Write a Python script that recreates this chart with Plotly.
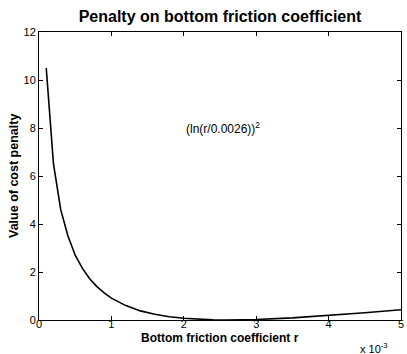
import plotly.graph_objects as go

# Bottom friction coefficient r (in units of 1e-3)
r_e3 = [0.1, 0.2, 0.3, 0.4, 0.5, 0.6, 0.7, 0.8, 0.9, 1.0, 1.2, 1.4, 1.6, 1.8,
        2.0, 2.2, 2.4, 2.6, 2.8, 3.0, 3.5, 4.0, 4.5, 5.0]
# Value of cost penalty
penalty = [10.5, 6.5, 4.6, 3.5, 2.7, 2.15, 1.72, 1.39, 1.13, 0.91, 0.60, 0.38,
           0.24, 0.135, 0.07, 0.028, 0.006, 0.0, 0.006, 0.02, 0.09, 0.19, 0.30, 0.43]

x_ticks = [0, 1, 2, 3, 4, 5]
y_ticks = [0, 2, 4, 6, 8, 10, 12]

FONT = "Liberation Sans, Arial, sans-serif"

fig = go.Figure()
fig.add_trace(go.Scatter(x=r_e3, y=penalty, mode="lines",
                         line=dict(color="black", width=1.6),
                         showlegend=False, hoverinfo="skip"))

axis_common = dict(showline=True, linecolor="black", linewidth=1, mirror="ticks",
                   ticks="inside", ticklen=4, tickcolor="black", tickwidth=1,
                   showgrid=False, zeroline=False, ticklabeloverflow="allow",
                   tickfont=dict(family=FONT, size=11, color="black"))

fig.update_layout(
    width=407, height=354,
    margin=dict(l=39, r=3, t=32, b=34),
    paper_bgcolor="white", plot_bgcolor="white",
    title=dict(text="<b>Penalty on bottom friction coefficient</b>",
               x=0.5, xref="paper", xanchor="center",
               y=1 - 16 / 354, yref="container", yanchor="middle",
               font=dict(family=FONT, size=16, color="black")),
    xaxis=dict(range=[0, 5], tickvals=x_ticks, ticktext=[str(v) for v in x_ticks],
               ticklabelstandoff=-6, **axis_common),
    yaxis=dict(range=[0, 12], tickvals=y_ticks, ticktext=[str(v) for v in y_ticks],
               **axis_common),
    annotations=[
        dict(text="<b>Bottom friction coefficient r</b>", x=0.5, y=0, xref="paper", yref="paper",
             xanchor="center", yanchor="middle", yshift=-17.5, showarrow=False,
             font=dict(family=FONT, size=12, color="black")),
        dict(text="<b>Value of cost penalty</b>", x=0, y=0.5, xref="paper", yref="paper",
             xanchor="center", yanchor="middle", xshift=-25, textangle=-90, showarrow=False,
             font=dict(family=FONT, size=12.5, color="black")),
        dict(text="(ln(r/0.0026))<sup>2</sup>", x=2.0, y=8.0, xref="x", yref="y",
             xanchor="left", yanchor="middle", showarrow=False,
             font=dict(family=FONT, size=12, color="black")),
        dict(text="x 10<sup>-3</sup>", x=1.0, y=0, xref="paper", yref="paper",
             xanchor="right", yanchor="middle", yshift=-28, xshift=-11, showarrow=False,
             font=dict(family=FONT, size=11, color="black")),
    ],
)

fig.write_html("out.html", config={"displayModeBar": False},
               post_script="document.body.style.margin='0';document.body.style.padding='0';")
